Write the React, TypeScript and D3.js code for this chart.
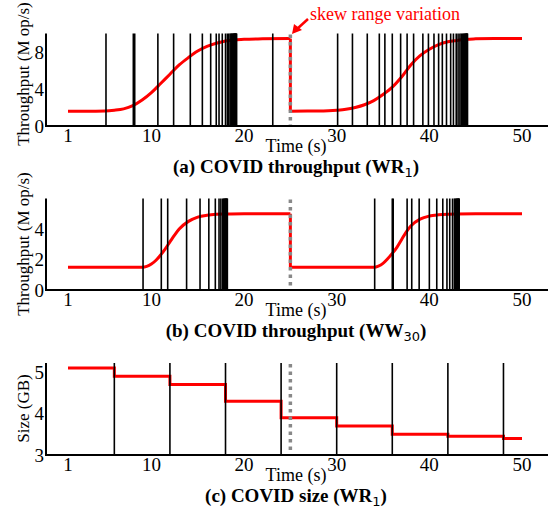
import React from "react";
import { scaleLinear, line, curveMonotoneX, curveStepAfter } from "d3";

// time axis ticks (s)
const timeTicks = [1, 10, 20, 30, 40, 50];

// (a) WR1 throughput, two runs split by the skew change at t=25
const tputA1T = [1, 3, 5, 6, 7, 8, 9, 10, 11, 12, 13, 14, 15, 16, 17, 18, 19, 20, 22, 25];
const tputA1V = [1.6, 1.6, 1.62, 1.7, 1.85, 2.2, 2.8, 3.6, 4.6, 5.6, 6.6, 7.4, 8.1, 8.6, 8.95, 9.2, 9.3, 9.38, 9.42, 9.45];
const tputA2T = [25, 28, 30, 31, 32, 33, 34, 35, 36, 37, 38, 39, 40, 41, 42, 43, 44, 45, 47, 50];
const tputA2V = [1.6, 1.62, 1.7, 1.8, 2.0, 2.3, 2.75, 3.4, 4.2, 5.3, 6.6, 7.6, 8.3, 8.8, 9.1, 9.25, 9.38, 9.42, 9.45, 9.45];
const eventsA = [
  5.1, 8.05, 8.2, 10.7, 12.4, 14.2, 15.5, 16.4, 17.0, 17.3, 17.65, 18.0, 18.2, 18.35, 18.5, 18.6,
  18.68, 18.75, 18.82, 18.88, 18.93, 18.97, 19.01, 19.05, 19.08, 19.11, 19.15, 19.2, 23.1,
  30.1, 31.7, 33.3, 34.6, 35.2, 36.0, 36.9, 37.6, 38.3, 39.3, 39.9, 40.5, 41.0, 41.4, 41.85,
  42.3, 42.6, 42.9, 43.1, 43.3, 43.45, 43.58, 43.68, 43.77, 43.85, 43.91, 43.96, 44.0, 44.04, 44.08, 44.12,
];

// (b) WW30 throughput
const tputB1T = [1, 5, 9, 9.5, 10, 10.5, 11, 11.5, 12, 12.5, 13, 14, 15, 16, 17, 18, 20, 25];
const tputB1V = [1.5, 1.5, 1.5, 1.55, 1.7, 1.95, 2.3, 2.7, 3.15, 3.6, 4.0, 4.5, 4.78, 4.9, 4.96, 4.98, 5.0, 5.0];
const tputB2T = [25, 30, 34, 34.5, 35, 35.5, 36, 36.5, 37, 37.5, 38, 39, 40, 41, 42, 43, 45, 50];
const tputB2V = [1.5, 1.5, 1.5, 1.57, 1.75, 2.05, 2.4, 2.8, 3.3, 3.8, 4.2, 4.65, 4.85, 4.93, 4.97, 4.99, 5.0, 5.0];
const eventsB = [
  9.1, 11.07, 11.76, 13.8, 15.25, 16.2, 16.9, 17.3, 17.5, 17.7, 17.8, 17.88, 17.95, 18.0, 18.05,
  18.1, 18.15, 18.2, 34.1, 36.0, 36.1, 37.6, 38.1, 38.9, 40.0, 40.8, 41.45, 41.9, 42.2, 42.5,
  42.7, 42.8, 42.9, 42.97, 43.03, 43.08, 43.13, 43.18, 43.22,
];

// (c) WR1 size, step per resize
const sizeT = [1, 6, 12, 18, 24, 30, 36, 42, 48, 50];
const sizeV = [5.1, 4.9, 4.7, 4.3, 3.9, 3.7, 3.5, 3.45, 3.4, 3.4];
const eventsC = [6, 12, 18, 24, 30, 36, 42, 48];

const skewTime = 25;

const serif = "'Liberation Serif', 'Times New Roman', serif";
const sans = "'DejaVu Sans', sans-serif";

const x = scaleLinear().domain([1, 50]).range([68, 522]);
const axisLeft = 46;
const axisRight = 548;

const zip = (t: number[], v: number[]) => t.map((d, i) => [d, v[i]] as [number, number]);

const panels = [
  {
    key: "a",
    domain: [0, 10],
    top: 33.5,
    bottom: 126,
    yTicks: [0, 4, 8],
    yLabel: "Throughput (M op/s)",
    labelY: 74,
    segs: [zip(tputA1T, tputA1V), zip(tputA2T, tputA2V)],
    step: false,
    events: eventsA,
    cap: "(a) COVID throughput (WR",
    sub: "1",
  },
  {
    key: "b",
    domain: [0, 6],
    top: 198.5,
    bottom: 290,
    yTicks: [0, 2, 4],
    yLabel: "Throughput (M op/s)",
    labelY: 244,
    segs: [zip(tputB1T, tputB1V), zip(tputB2T, tputB2V)],
    step: false,
    events: eventsB,
    cap: "(b) COVID throughput (WW",
    sub: "30",
  },
  {
    key: "c",
    domain: [3, 5.22],
    top: 363,
    bottom: 455,
    yTicks: [3, 4, 5],
    yLabel: "Size (GB)",
    labelY: 408.5,
    segs: [zip(sizeT, sizeV)],
    step: true,
    events: eventsC,
    cap: "(c) COVID size (WR",
    sub: "1",
  },
];

function Panel({ p }: { p: any }) {
  const y = scaleLinear().domain(p.domain).range([p.bottom, p.top]);
  const gen = line<[number, number]>()
    .x((d) => x(d[0]))
    .y((d) => y(d[1]))
    .curve(p.step ? curveStepAfter : curveMonotoneX);
  const segs: [number, number][][] = p.segs;
  return (
    <g>
      {/* red series */}
      {segs.map((s, i) => (
        <path key={i} d={gen(s) || ""} fill="none" stroke="#ff0000" strokeWidth={3} />
      ))}
      {segs.length > 1 && (
        <line
          x1={x(skewTime)}
          x2={x(skewTime)}
          y1={y(segs[0][segs[0].length - 1][1])}
          y2={y(segs[1][0][1])}
          stroke="#ff0000"
          strokeWidth={3}
        />
      )}
      {/* resize events */}
      {p.events.map((t: number, i: number) => (
        <line key={"e" + i} x1={x(t)} x2={x(t)} y1={p.top} y2={p.bottom} stroke="#000" strokeWidth={1.6} />
      ))}
      {/* skew change marker */}
      <line
        x1={x(skewTime)}
        x2={x(skewTime)}
        y1={p.top + 1}
        y2={p.bottom}
        stroke="#888"
        strokeWidth={3.5}
        strokeDasharray="3.5,4"
      />
      {/* axes */}
      <line x1={axisLeft} x2={axisLeft} y1={p.top} y2={p.bottom + 1} stroke="#000" strokeWidth={2} />
      <line x1={axisLeft - 1} x2={axisRight} y1={p.bottom} y2={p.bottom} stroke="#000" strokeWidth={2} />
      {p.yTicks.map((v: number) => (
        <text key={"y" + v} x={44} y={y(v)} dy="0.35em" textAnchor="end" fontSize={19} fontFamily={serif}>
          {v}
        </text>
      ))}
      {timeTicks.map((v) => (
        <text key={"x" + v} x={x(v)} y={p.bottom + 16} textAnchor="middle" fontSize={19} fontFamily={serif}>
          {v}
        </text>
      ))}
      <text
        transform={`translate(29, ${p.labelY}) rotate(-90)`}
        textAnchor="middle"
        fontSize={17}
        fontFamily={serif}
      >
        {p.yLabel}
      </text>
      <text x={296} y={p.bottom + 26} textAnchor="middle" fontSize={18} fontFamily={serif}>
        Time (s)
      </text>
      <text x={296} y={p.bottom + 47} textAnchor="middle" fontSize={19} fontWeight="bold" fontFamily={serif}>
        {p.cap}
        <tspan fontFamily={sans} fontWeight="normal" fontSize={13} dy={4}>
          {p.sub}
        </tspan>
        <tspan dy={-4}>)</tspan>
      </text>
    </g>
  );
}

export default function App() {
  return (
    <div style={{ position: "absolute", left: 0, top: 0 }}>
      <svg width={550} height={508} style={{ display: "block", background: "#fff" }}>
        {panels.map((p) => (
          <Panel key={p.key} p={p} />
        ))}
        {/* annotation */}
        <line x1={308} y1={19} x2={297} y2={29} stroke="#ff0000" strokeWidth={2.5} />
        <polygon points="292,34 294,24 302,30" fill="#ff0000" />
        <text x={310} y={20} fontSize={18} fill="#ff0000" fontFamily={serif}>
          skew range variation
        </text>
      </svg>
    </div>
  );
}
